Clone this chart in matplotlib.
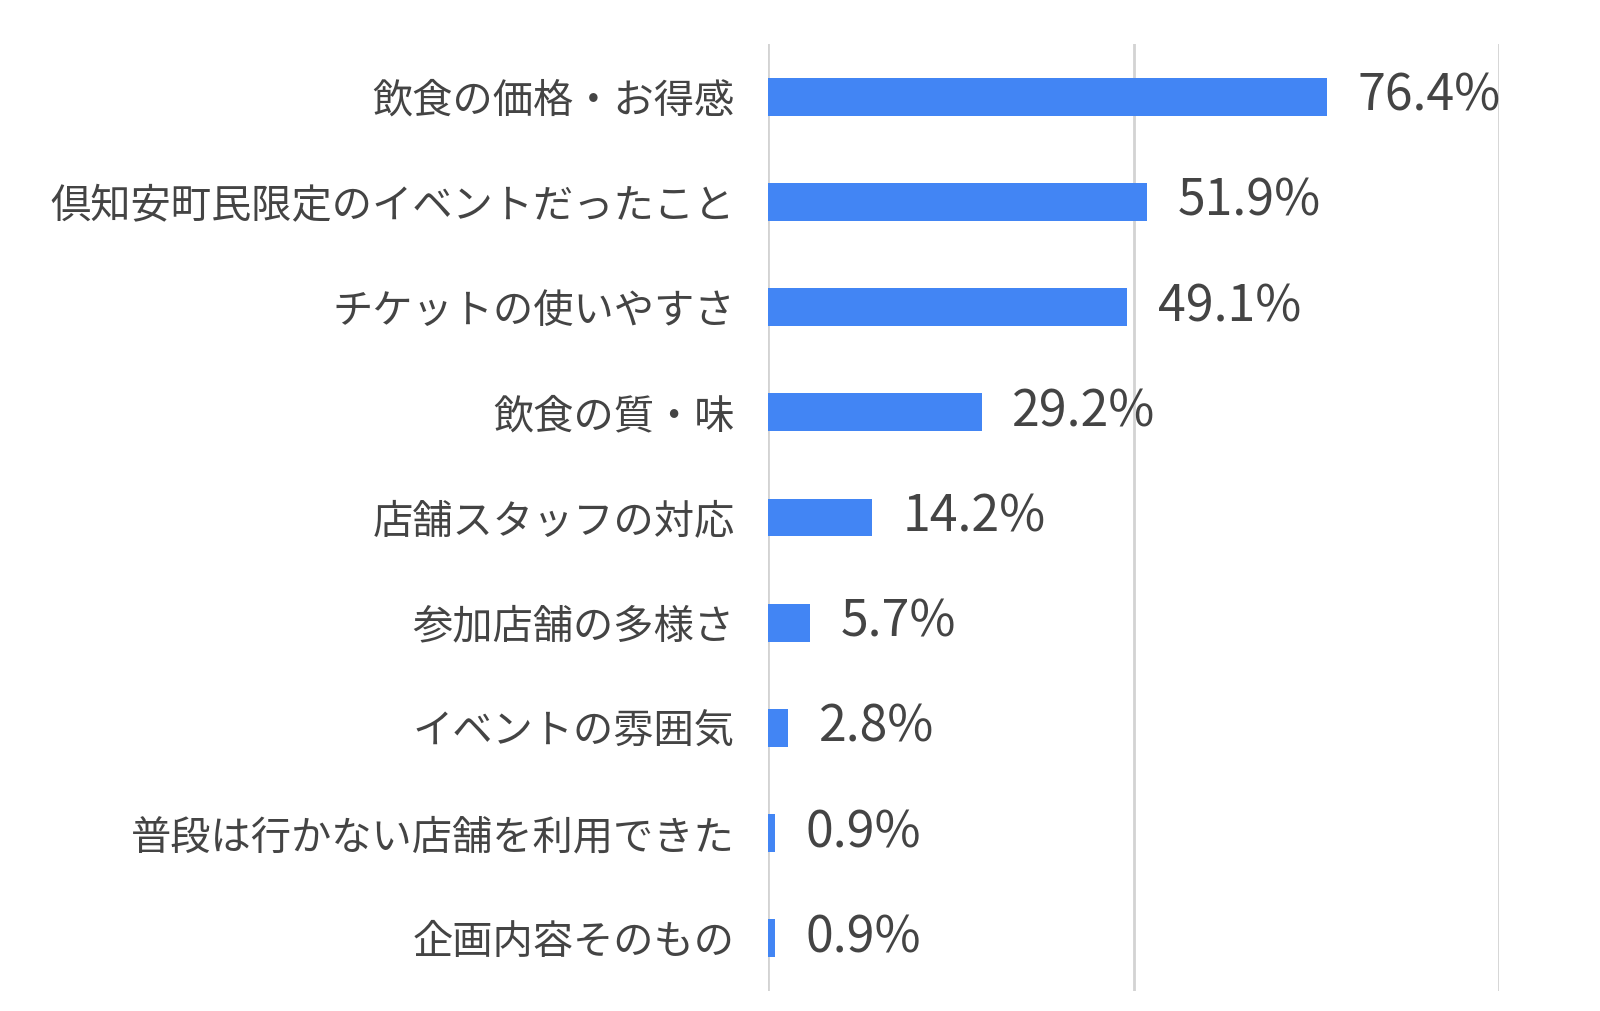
import numpy as np
import matplotlib.pyplot as plt

plt.rcParams['font.family'] = ['Noto Sans CJK JP', 'DejaVu Sans']

# 回答項目と割合(%)
categories = ["飲食の価格・お得感", "倶知安町民限定のイベントだったこと", "チケットの使いやすさ",
              "飲食の質・味", "店舗スタッフの対応", "参加店舗の多様さ", "イベントの雰囲気",
              "普段は行かない店舗を利用できた", "企画内容そのもの"]
values = [76.4, 51.9, 49.1, 29.2, 14.2, 5.7, 2.8, 0.9, 0.9]

bar_color = "#4285F4"
text_color = "#444444"

fig = plt.figure(figsize=(16, 10.11), dpi=100)
ax = fig.add_axes([0.48, 0.0198, 0.457, 0.9367])

y = np.arange(len(categories))
ax.barh(y, values, height=0.36, color=bar_color, zorder=3)

ax.set_xlim(0, 100)
ax.set_ylim(len(categories) - 0.5, -0.5)
ax.set_xticks([0, 50, 100])
ax.set_xticklabels([])
ax.tick_params(axis='x', length=0)
ax.tick_params(axis='y', length=0, pad=24, labelsize=29, labelcolor=text_color)
ax.set_yticks(y)
ax.set_yticklabels(categories)
ax.grid(axis='x', color="#d3d3d3", linewidth=2, zorder=0)
for s in ax.spines.values():
    s.set_visible(False)

for yi, v in zip(y, values):
    ax.annotate(f"{v:.1f}%", xy=(v, yi), xytext=(22, 0), textcoords="offset points",
                va="center", ha="left", fontsize=36, color=text_color)

fig.savefig("out.png", dpi=100, facecolor="white")
